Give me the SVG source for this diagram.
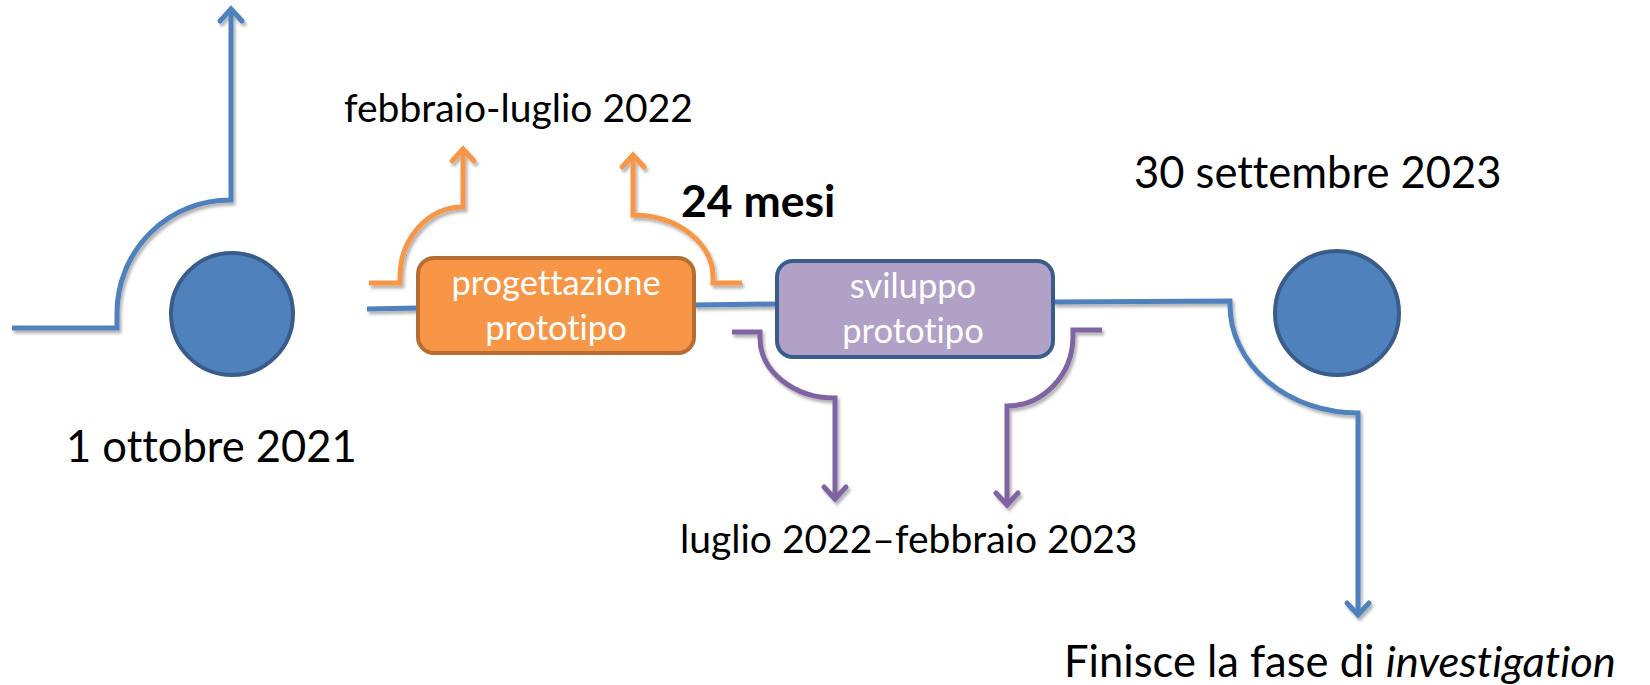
<svg xmlns="http://www.w3.org/2000/svg" width="1650" height="685" viewBox="0 0 1650 685">
<style>
.t{font-family:Lato,"Liberation Sans",sans-serif;fill:#000;font-variant-ligatures:none}
.big{font-size:43.5px}
.mid{font-size:39px}
.bold{font-size:44.5px;font-weight:bold}
.box{font-family:Lato,"Liberation Sans",sans-serif;font-size:34.5px;fill:#fff;text-anchor:middle;font-variant-ligatures:none}
.ln{fill:none;stroke-width:5;stroke-linejoin:miter}
.blue{stroke:#4F81BD}
.orange{stroke:#F79646}
.purple{stroke:#8064A2}
.node{stroke-width:4}
</style>
<defs>
<filter id="sh" x="-10%" y="-10%" width="120%" height="120%">
<feDropShadow dx="2" dy="3" stdDeviation="1.5" flood-color="#000" flood-opacity="0.3"/>
</filter>
<marker id="ab" markerUnits="userSpaceOnUse" markerWidth="30" markerHeight="30" viewBox="-16 -15 20 30" refX="0" refY="0" orient="auto" overflow="visible">
<path d="M-12,-11 L0,0 L-12,11" fill="none" stroke="#4F81BD" stroke-width="5" stroke-linecap="round"/>
</marker>
<marker id="ao" markerUnits="userSpaceOnUse" markerWidth="30" markerHeight="30" viewBox="-16 -15 20 30" refX="0" refY="0" orient="auto" overflow="visible">
<path d="M-12,-11 L0,0 L-12,11" fill="none" stroke="#F79646" stroke-width="5" stroke-linecap="round"/>
</marker>
<marker id="ap" markerUnits="userSpaceOnUse" markerWidth="30" markerHeight="30" viewBox="-16 -15 20 30" refX="0" refY="0" orient="auto" overflow="visible">
<path d="M-12,-11 L0,0 L-12,11" fill="none" stroke="#8064A2" stroke-width="5" stroke-linecap="round"/>
</marker>
</defs>
<rect width="1650" height="685" fill="#fff"/>

<g id="connectors" filter="url(#sh)">
<path class="ln blue" d="M12,328 H117 V313 A113,113 0 0 1 231,200 V9" marker-end="url(#ab)"/>
<path class="ln orange" d="M369,283 H400 V277 A63,70 0 0 1 463,207 V149" marker-end="url(#ao)"/>
<path class="ln orange" d="M742,283 H713 V277 A80,62 0 0 0 633,215 V155" marker-end="url(#ao)"/>
<path class="ln blue" d="M367,309 L418,308"/>
<path class="ln blue" d="M694,305 L777,304"/>
<path class="ln blue" d="M1053,302 L1230,301 V305 A128,108 0 0 0 1358,413 V615" marker-end="url(#ab)"/>
<path class="ln purple" d="M732,332 H760 V338 A75,60 0 0 0 835,398 V499" marker-end="url(#ap)"/>
<path class="ln purple" d="M1102,330 H1073 V336 A66,70 0 0 1 1007,406 V505" marker-end="url(#ap)"/>
</g>

<g id="start">
<circle class="node" cx="232" cy="314" r="61" fill="#4F81BD" stroke="#385D8A"/>
</g>
<g id="end">
<circle class="node" cx="1337" cy="313" r="62" fill="#4F81BD" stroke="#385D8A"/>
</g>
<g id="progettazione">
<rect class="node" x="418" y="258" width="276" height="95" rx="16" fill="#F79646" stroke="#B66D31"/>
<text class="box" x="556" y="295">progettazione</text>
<text class="box" x="556" y="340">prototipo</text>
</g>
<g id="sviluppo">
<rect class="node" x="777" y="261" width="276" height="96" rx="16" fill="#B2A1C7" stroke="#385D8A"/>
<text class="box" x="913" y="298">sviluppo</text>
<text class="box" x="913" y="343">prototipo</text>
</g>

<g id="labels">
<text class="t mid" x="344" y="122">febbraio-luglio 2022</text>
<text class="t bold" x="681" y="217">24 mesi</text>
<text class="t big" x="1134" y="188">30 settembre 2023</text>
<text class="t big" x="66" y="462">1 ottobre 2021</text>
<text class="t mid" x="680" y="553">luglio 2022–febbraio 2023</text>
<text class="t big" x="1064" y="677">Finisce la fase di <tspan font-style="italic">investigation</tspan></text>
</g>
</svg>
